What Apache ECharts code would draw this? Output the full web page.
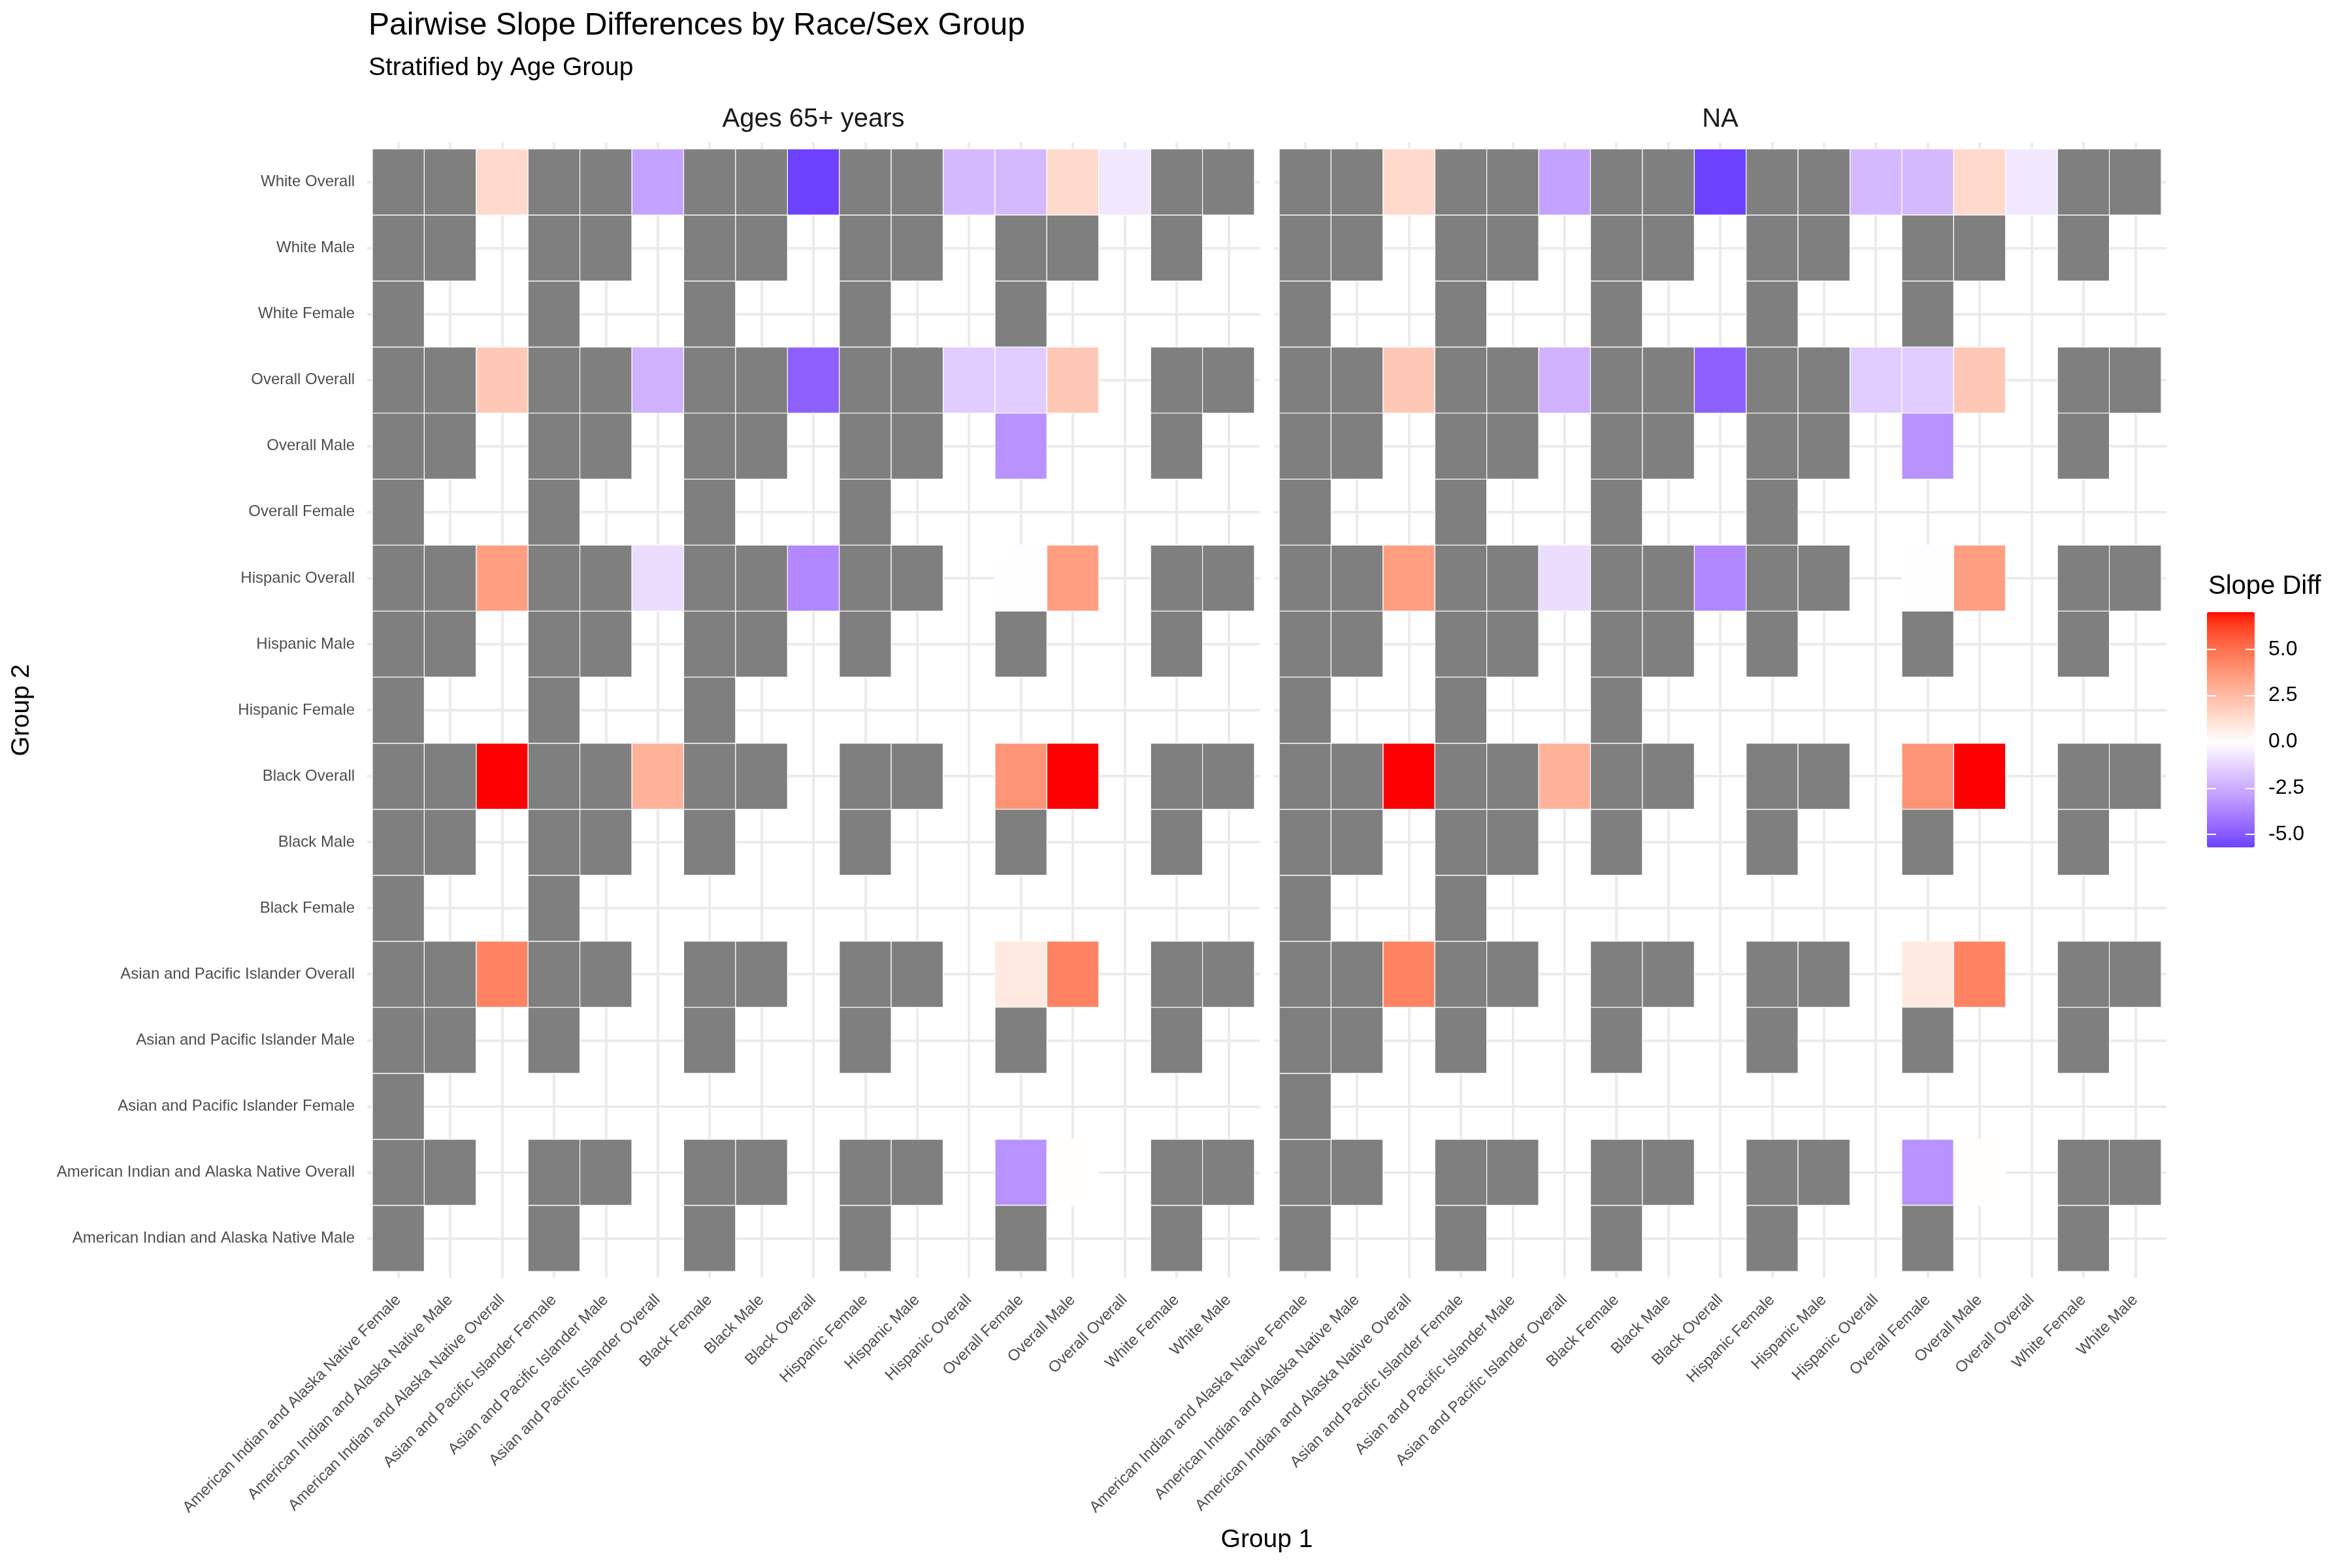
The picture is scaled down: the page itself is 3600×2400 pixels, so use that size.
<!DOCTYPE html>
<html>
<head>
<meta charset="utf-8">
<script src="https://cdn.jsdelivr.net/npm/echarts@6/dist/echarts.min.js"></script>
<style>
html,body{margin:0;padding:0;background:#fff;}
#chart{width:3600px;height:2400px;}
</style>
</head>
<body>
<div id="chart"></div>
<script>
// ---------------- DATA ----------------
const N = 'NA';      // pair exists but slope difference not estimable (grey)
const _ = null;      // pair not present

const group1 = [
  'American Indian and Alaska Native Female',
  'American Indian and Alaska Native Male',
  'American Indian and Alaska Native Overall',
  'Asian and Pacific Islander Female',
  'Asian and Pacific Islander Male',
  'Asian and Pacific Islander Overall',
  'Black Female',
  'Black Male',
  'Black Overall',
  'Hispanic Female',
  'Hispanic Male',
  'Hispanic Overall',
  'Overall Female',
  'Overall Male',
  'Overall Overall',
  'White Female',
  'White Male'
];

// bottom to top
const group2 = [
  'American Indian and Alaska Native Male',
  'American Indian and Alaska Native Overall',
  'Asian and Pacific Islander Female',
  'Asian and Pacific Islander Male',
  'Asian and Pacific Islander Overall',
  'Black Female',
  'Black Male',
  'Black Overall',
  'Hispanic Female',
  'Hispanic Male',
  'Hispanic Overall',
  'Overall Female',
  'Overall Male',
  'Overall Overall',
  'White Female',
  'White Male',
  'White Overall'
];

const facets = ['Ages 65+ years', 'NA'];

// one row per Group 2 level, values across Group 1 levels
const rowAIANMale     = [N, _, _, N, _, _, N, _, _, N, _, _, N, _, _, N, _];
const rowAIANOverall  = [N, N, _, N, N, _, N, N, _, N, N, _, -3.3, 0.05, _, N, N];
const rowAPIFemale    = [N, _, _, _, _, _, _, _, _, _, _, _, _, _, _, _, _];
const rowAPIMale      = [N, N, _, N, _, _, N, _, _, N, _, _, N, _, _, N, _];
const rowAPIOverall   = [N, N, 4.4, N, N, _, N, N, _, N, N, _, 0.8, 4.4, _, N, N];
const rowBlackFemale  = [N, _, _, N, _, _, _, _, _, _, _, _, _, _, _, _, _];
const rowBlackMale    = [N, N, _, N, N, _, N, _, _, N, _, _, N, _, _, N, _];
const rowBlackOverall = [N, N, 7.0, N, N, 2.8, N, N, _, N, N, _, 3.8, 7.0, _, N, N];
const rowHispFemale   = [N, _, _, N, _, _, N, _, _, _, _, _, _, _, _, _, _];
const rowHispMale     = [N, N, _, N, N, _, N, N, _, N, _, _, N, _, _, N, _];
const rowHispOverall  = [N, N, 3.5, N, N, -1.0, N, N, -3.6, N, N, _, -0.05, 3.5, _, N, N];
const rowOvFemale     = [N, _, _, N, _, _, N, _, _, N, _, _, _, _, _, _, _];
const rowOvMale       = [N, N, _, N, N, _, N, N, _, N, N, _, -3.3, _, _, N, _];
const rowOvOverall    = [N, N, 2.0, N, N, -2.3, N, N, -4.8, N, N, -1.5, -1.5, 2.0, _, N, N];
const rowWhiteFemale  = [N, _, _, N, _, _, N, _, _, N, _, _, N, _, _, _, _];
const rowWhiteMale    = [N, N, _, N, N, _, N, N, _, N, N, _, N, N, _, N, _];
const rowWhiteOverall = [N, N, 1.4, N, N, -2.8, N, N, -5.7, N, N, -2.1, -2.1, 1.4, -0.7, N, N];

// both facets show the same pairs
const rowsByGroup2 = [
  rowAIANMale, rowAIANOverall, rowAPIFemale, rowAPIMale, rowAPIOverall,
  rowBlackFemale, rowBlackMale, rowBlackOverall, rowHispFemale, rowHispMale,
  rowHispOverall, rowOvFemale, rowOvMale, rowOvOverall, rowWhiteFemale,
  rowWhiteMale, rowWhiteOverall
];

const legendTicks = [-5.0, -2.5, 0.0, 2.5, 5.0];

// ---------------- BUILD ----------------
const valueCells = [], naCells = [], allValues = [];
rowsByGroup2.forEach((row, yi) => {
  row.forEach((v, xi) => {
    if (v === N) naCells.push([xi, yi]);
    else if (typeof v === 'number') { valueCells.push([xi, yi, v]); allValues.push(v); }
  });
});
const vmin = Math.min(...allValues);
const vmax = Math.max(...allValues);

// ggplot2 scale_fill_gradient2(low='blue', mid='white', high='red') in CIE Lab
function s2l(c){c/=255;return c<=0.04045?c/12.92:Math.pow((c+0.055)/1.055,2.4);}
function l2s(c){c=c<=0.0031308?12.92*c:1.055*Math.pow(c,1/2.4)-0.055;return Math.round(Math.min(1,Math.max(0,c))*255);}
function hexToLab(h){
  const r=s2l(parseInt(h.slice(1,3),16)),g=s2l(parseInt(h.slice(3,5),16)),b=s2l(parseInt(h.slice(5,7),16));
  let X=(0.4124564*r+0.3575761*g+0.1804375*b)/0.95047;
  let Y=(0.2126729*r+0.7151522*g+0.0721750*b);
  let Z=(0.0193339*r+0.1191920*g+0.9503041*b)/1.08883;
  const f=t=>t>0.008856?Math.cbrt(t):7.787*t+16/116;
  const fx=f(X),fy=f(Y),fz=f(Z);
  return [116*fy-16,500*(fx-fy),200*(fy-fz)];
}
function labToHex(L,a,b){
  const fy=(L+16)/116,fx=fy+a/500,fz=fy-b/200;
  const inv=t=>{const t3=t*t*t;return t3>0.008856?t3:(t-16/116)/7.787;};
  const X=inv(fx)*0.95047,Y=inv(fy),Z=inv(fz)*1.08883;
  const r=3.2404542*X-1.5371385*Y-0.4985314*Z;
  const g=-0.9692660*X+1.8760108*Y+0.0415560*Z;
  const bb=0.0556434*X-0.2040259*Y+1.0572252*Z;
  const hx=v=>l2s(v).toString(16).padStart(2,'0');
  return '#'+hx(r)+hx(g)+hx(bb);
}
const LOW=hexToLab('#0000FF'), MID=hexToLab('#FFFFFF'), HIGH=hexToLab('#FF0000');
const M = Math.max(Math.abs(vmin), Math.abs(vmax));
function colorFor(v){
  const t=v/M, end=t>=0?HIGH:LOW, f=Math.abs(t);
  return labToHex(MID[0]+(end[0]-MID[0])*f, MID[1]+(end[1]-MID[1])*f, MID[2]+(end[2]-MID[2])*f);
}
const rampColors=[];
for(let i=0;i<=120;i++){rampColors.push(colorFor(vmin+(vmax-vmin)*i/120));}

const FONT = '"Liberation Sans", Arial, Helvetica, sans-serif';
const xIdx = group1.map((d,i)=>i);
const yIdx = group2.map((d,i)=>i);

const cellW = 1350/17, cellH = 1718/17;
const gridTop = 228 - 0.1*cellH, gridH = 17.2*cellH;
const gridLefts = [570 - 0.1*cellW, 1958 - 0.1*cellW];
const gridW = 17.2*cellW;

function renderTile(params, api){
  const x=api.value(0), y=api.value(1);
  const p0=api.coord([x-0.5, y+0.5]);
  const p1=api.coord([x+0.5, y-0.5]);
  return {type:'rect', shape:{x:p0[0], y:p0[1], width:p1[0]-p0[0], height:p1[1]-p0[1]},
    style:{fill:api.visual('color'), stroke:'#FFFFFF', lineWidth:1.2}};
}

const grids=[], xAxes=[], yAxes=[], series=[];
facets.forEach((f,k)=>{
  grids.push({left:gridLefts[k], top:gridTop, width:gridW, height:gridH, containLabel:false});
  xAxes.push({gridIndex:k, type:'value', min:-0.6, max:16.6,
    axisLine:{show:false}, axisTick:{show:false, customValues:xIdx},
    axisLabel:{customValues:xIdx, formatter:v=>group1[Math.round(v)], rotate:45, fontSize:24,
      color:'#4D4D4D', fontFamily:FONT, margin:30},
    splitLine:{show:true, lineStyle:{color:'#EBEBEB', width:4}}});
  yAxes.push({gridIndex:k, type:'value', min:-0.6, max:16.6,
    axisLine:{show:false}, axisTick:{show:false, customValues:yIdx},
    axisLabel:{show:k===0, customValues:yIdx, formatter:v=>group2[Math.round(v)], fontSize:24,
      color:'#4D4D4D', fontFamily:FONT, margin:19},
    splitLine:{show:true, lineStyle:{color:'#EBEBEB', width:4}}});
  series.push({type:'custom', name:f+' values', coordinateSystem:'cartesian2d', xAxisIndex:k, yAxisIndex:k,
    renderItem:renderTile, data:valueCells, encode:{x:0,y:1}, z:3});
  series.push({type:'custom', name:f+' NA', coordinateSystem:'cartesian2d', xAxisIndex:k, yAxisIndex:k,
    renderItem:renderTile, data:naCells, encode:{x:0,y:1}, itemStyle:{color:'#7F7F7F'}, z:3});
});

// legend colour bar axis (for tick marks / labels)
const LG = {left:3378, top:937, width:73, height:360};
grids.push({left:LG.left, top:LG.top, width:LG.width, height:LG.height});
xAxes.push({gridIndex:2, type:'value', show:false, min:0, max:1});
yAxes.push({gridIndex:2, type:'value', min:vmin, max:vmax, position:'left', z:10,
  axisLine:{show:false}, splitLine:{show:false},
  axisTick:{show:true, inside:true, length:14, customValues:legendTicks, lineStyle:{color:'#FFFFFF', width:2}},
  axisLabel:{show:false, customValues:legendTicks}});
yAxes.push({gridIndex:2, type:'value', min:vmin, max:vmax, position:'right', z:10,
  axisLine:{show:false}, splitLine:{show:false},
  axisTick:{show:true, inside:true, length:14, customValues:legendTicks, lineStyle:{color:'#FFFFFF', width:2}},
  axisLabel:{show:true, customValues:legendTicks, formatter:v=>v.toFixed(1), fontSize:32, color:'#000000',
    fontFamily:FONT, margin:21}});

const option = {
  backgroundColor:'#FFFFFF',
  animation:false,
  grid:grids, xAxis:xAxes, yAxis:yAxes, series:series,
  visualMap:[{type:'continuous', seriesIndex:[0,2], dimension:2, min:vmin, max:vmax,
    inRange:{color:rampColors}, calculable:false, realtime:false, hoverLink:false,
    orient:'vertical', left:LG.left, top:LG.top, itemWidth:LG.width, itemHeight:LG.height,
    padding:0, text:null, showLabel:false, z:4}],
  graphic:[
    {type:'text', x:564, y:40, style:{text:'Pairwise Slope Differences by Race/Sex Group', font:'48px '+FONT, fill:'#000000', align:'left', verticalAlign:'middle'}},
    {type:'text', x:564, y:104, style:{text:'Stratified by Age Group', font:'39px '+FONT, fill:'#000000', align:'left', verticalAlign:'middle'}},
    {type:'text', x:(570+1920)/2, y:183, style:{text:facets[0], font:'40px '+FONT, fill:'#1A1A1A', align:'center', verticalAlign:'middle'}},
    {type:'text', x:(1958+3308)/2, y:183, style:{text:facets[1], font:'40px '+FONT, fill:'#1A1A1A', align:'center', verticalAlign:'middle'}},
    {type:'text', x:1939, y:2357, style:{text:'Group 1', font:'39px '+FONT, fill:'#000000', align:'center', verticalAlign:'middle'}},
    {type:'text', x:33, y:1087, rotation:Math.PI/2, style:{text:'Group 2', font:'39px '+FONT, fill:'#000000', align:'center', verticalAlign:'middle'}},
    {type:'text', x:3380, y:898, style:{text:'Slope Diff', font:'40px '+FONT, fill:'#000000', align:'left', verticalAlign:'middle'}}
  ]
};

const chart = echarts.init(document.getElementById('chart'), null, {renderer:'canvas'});
chart.setOption(option);
</script>
</body>
</html>
